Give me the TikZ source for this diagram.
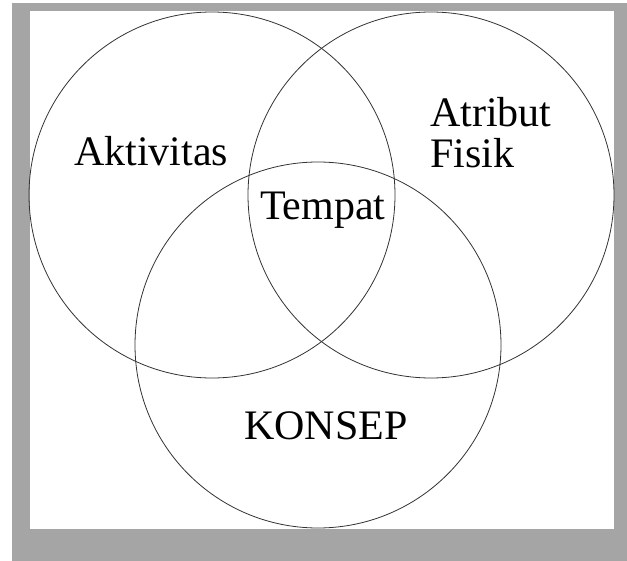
\documentclass[tikz,border=0pt]{standalone}
\usepackage{fontspec}
\setmainfont{Liberation Serif}
\usepackage{tikz}
\usetikzlibrary{positioning}
\definecolor{framegray}{RGB}{165,165,165}
\tikzset{setcircle/.style = {shape=circle,draw=black!80,line width=0.8pt,minimum size=366pt,inner sep=0pt}}
\tikzset{vtext/.style = {anchor=base west,inner sep=0pt,font=\fontsize{42}{46}\selectfont}}

\begin{document}
\begin{tikzpicture}[x=1pt,y=-1pt]
                \useasboundingbox (0,0) rectangle (627,561);
                \fill[framegray] (12,3) rectangle (627,561);
                \fill[white] (30,11) rectangle (614,529);
                \node[setcircle] (akt) at (212,195) {};
                \node[setcircle] (atr) at (431,195) {};
                \node[setcircle] (kon) at (318,345) {};
                \node[vtext] (aktivitas) at (74,166) {Aktivitas};
                \node[vtext] (atribut) at (430,127) {Atribut};
                \node[vtext] (fisik) at (430,168) {Fisik};
                \node[vtext] (tempat) at (260,220) {Tempat};
                \node[vtext] (konsep) at (244,439) {KONSEP};
            \end{tikzpicture}
\end{document}
